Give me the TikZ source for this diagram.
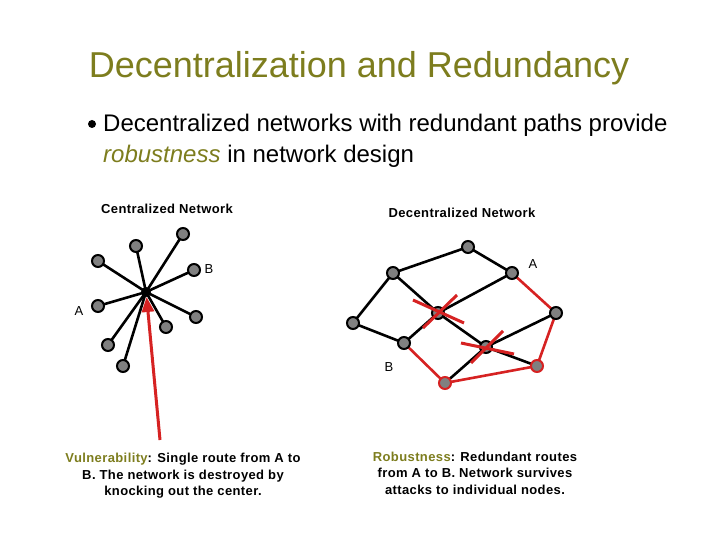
\documentclass[tikz,border=0pt]{standalone}
\usepackage{fontspec}
\setmainfont{Liberation Sans}
\newfontfamily\capfont[LetterSpace=3]{Liberation Sans}
\usepackage{tikz}
\usetikzlibrary{shapes.geometric, arrows, arrows.meta, shapes, positioning, calc, backgrounds}

\definecolor{olive}{RGB}{125,125,30}
\definecolor{cutred}{RGB}{214,34,34}
\tikzset{
  nd/.style={circle, draw=black, fill=gray, line width=2pt, minimum size=12pt, inner sep=0pt},
  ndred/.style={nd, draw=cutred},
  hub/.style={circle, fill=black, minimum size=10pt, inner sep=0pt},
  lnk/.style={line width=2.6pt, black},
  rlnk/.style={line width=2.6pt, cutred},
  cutx/.style={line width=3pt, cutred},
  lbl/.style={font=\fontsize{13}{15}\selectfont},
  capt/.style={font=\capfont\bfseries\fontsize{13}{16.5}\selectfont, align=center}
}

\begin{document}
\begin{tikzpicture}[x=1pt,y=-1pt]
\useasboundingbox (0,0) rectangle (720,540);

\node [text=olive, font=\fontsize{36}{40}\selectfont] at (359,68) {Decentralization and Redundancy};
\node (dot) [circle, fill=black, minimum size=8pt, inner sep=0pt] at (92,124) {};
\node (ln1) [anchor=base west, font=\fontsize{24}{28}\selectfont, inner sep=0pt] at (103,132) {Decentralized networks with redundant paths provide};
\node (ln2) [anchor=base west, font=\fontsize{24}{28}\selectfont, inner sep=0pt] at (103,163) {\textcolor{olive}{\itshape robustness} in network design};

% centralized
\node [capt] at (167,209) {Centralized Network};
\node (c) [hub] at (146,292) {};
\node (c1) [nd] at (183,234) {};
\node (c2) [nd] at (136,246) {};
\node (c3) [nd] at (98,261) {};
\node (c4) [nd] at (194,270) {};
\node (c5) [nd] at (98,306) {};
\node (c6) [nd] at (196,317) {};
\node (c7) [nd] at (166,327) {};
\node (c8) [nd] at (108,345) {};
\node (c9) [nd] at (123,366) {};
\begin{scope}[on background layer]
\foreach \n in {c1,c2,c3,c4,c5,c6,c7,c8,c9}
  \draw [lnk] (c.center) -- (\n.center);
\end{scope}
\node [lbl] at (209,269) {B};
\node [lbl] at (79,311) {A};
\coordinate (shot) at (160,440);
\draw [cutred, line width=3pt, -{Triangle[length=15pt,width=12pt]}] (shot) -- ($ (c) + (0.6,5) $);

% decentralized
\node [capt] at (462,213) {Decentralized Network};
\node (d1) [nd] at (468,247) {};
\node (d2) [nd] at (512,273) {};
\node (d3) [nd] at (393,273) {};
\node (d4) [nd] at (353,323) {};
\node (d5) [nd] at (438,313) {};
\node (d6) [nd] at (404,343) {};
\node (d7) [nd] at (556,313) {};
\node (d8) [nd] at (486,347) {};
\node (d9) [ndred] at (445,383) {};
\node (d10) [ndred] at (537,366) {};
\begin{scope}[on background layer]
\draw [lnk] (d3.center) -- (d1.center) -- (d2.center);
\draw [lnk] (d3.center) -- (d4.center) -- (d6.center) -- (d5.center) -- (d2.center);
\draw [lnk] (d3.center) -- (d5.center) -- (d8.center) -- (d10.center);
\draw [lnk] (d7.center) -- (d8.center) -- (d9.center);
\draw [rlnk] (d2.center) -- (d7.center) -- (d10.center) -- (d9.center) -- (d6.center);
\end{scope}
\draw [cutx] ($ (d5) + (-25,-13) $) -- ($ (d5) + (26,10) $);
\draw [cutx] ($ (d5) + (19,-18) $) -- ($ (d5) + (-15,15) $);
\draw [cutx] ($ (d8) + (-25,-4) $) -- ($ (d8) + (28,7) $);
\draw [cutx] ($ (d8) + (17,-16) $) -- ($ (d8) + (-15,16) $);
\node [lbl] at (533,264) {A};
\node [lbl] at (389,367) {B};

\node [capt] at (183,476) {\textcolor{olive}{Vulnerability}: Single route from A to\\B.  The network is destroyed by\\knocking out the center.};
\node [capt] at (475,473) {\textcolor{olive}{Robustness}: Redundant routes\\from A to B.  Network survives\\attacks to individual nodes.};
\end{tikzpicture}
\end{document}
